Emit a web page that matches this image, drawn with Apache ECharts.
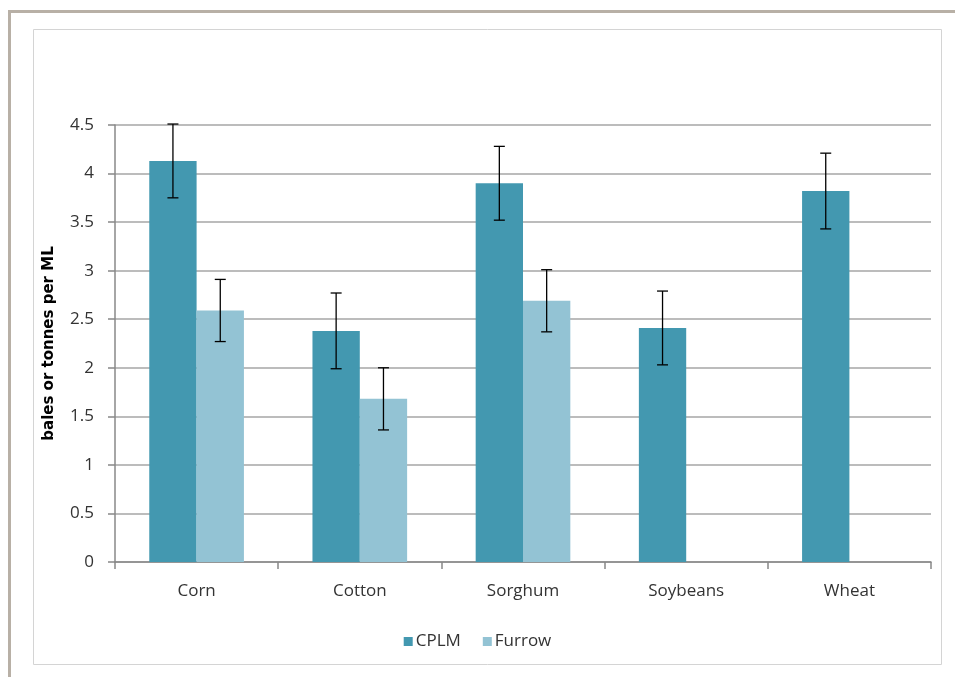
<!DOCTYPE html>
<html>
<head>
<meta charset="utf-8">
<script src="https://cdn.jsdelivr.net/npm/echarts@6/dist/echarts.min.js"></script>
<style>
html,body{margin:0;padding:0;background:#fff;}
#chart{width:955px;height:677px;}
</style>
</head>
<body>
<div id="chart"></div>
<script>
const categories = ['Corn', 'Cotton', 'Sorghum', 'Soybeans', 'Wheat'];
const seriesNames = ['CPLM', 'Furrow'];
const cplmValues = [4.13, 2.38, 3.90, 2.41, 3.82];
const cplmErrors = [0.38, 0.39, 0.38, 0.38, 0.39];
const furrowValues = [2.59, 1.68, 2.69, null, null];
const furrowErrors = [0.32, 0.32, 0.32, null, null];
const yTicks = [0, 0.5, 1, 1.5, 2, 2.5, 3, 3.5, 4, 4.5];

const colors = ['#4398b0', '#93c3d4'];
const gapFrac = 0.42;

function errData(vals, errs) {
  return vals.map((v, i) => v == null ? null : [i, v - errs[i], v + errs[i]]);
}

function makeErr(vals, errs, sideIndex) {
  return {
    type: 'custom',
    name: seriesNames[sideIndex] + ' error',
    z: 10,
    silent: true,
    data: errData(vals, errs).filter(d => d !== null),
    renderItem: function (params, api) {
      const cat = api.value(0);
      const lo = api.coord([cat, api.value(1)]);
      const hi = api.coord([cat, api.value(2)]);
      const band = api.size([1, 0])[0];
      const bw = band * (1 - gapFrac) / 2;
      const x = lo[0] + (sideIndex === 0 ? -bw / 2 : bw / 2);
      const cap = 5.5;
      const style = { stroke: '#000', lineWidth: 1.3, fill: null };
      return {
        type: 'group',
        children: [
          { type: 'line', shape: { x1: x, y1: lo[1], x2: x, y2: hi[1] }, style: style },
          { type: 'line', shape: { x1: x - cap, y1: lo[1], x2: x + cap, y2: lo[1] }, style: style },
          { type: 'line', shape: { x1: x - cap, y1: hi[1], x2: x + cap, y2: hi[1] }, style: style }
        ]
      };
    }
  };
}

const chart = echarts.init(document.getElementById('chart'), null, { renderer: 'canvas' });
chart.setOption({
  animation: false,
  backgroundColor: '#fff',
  textStyle: { fontFamily: 'Open Sans, Noto Sans, sans-serif' },
  graphic: [
    { type: 'rect', shape: { x: 9.5, y: 11.5, width: 1000, height: 1000 }, style: { fill: null, stroke: '#b8b0a6', lineWidth: 3 }, silent: true },
    { type: 'rect', shape: { x: 33.5, y: 29.5, width: 908, height: 635 }, style: { fill: null, stroke: '#d4d4d4', lineWidth: 1 }, silent: true }
  ],
  grid: { left: 115, right: 24, top: 125, bottom: 115, containLabel: false },
  legend: {
    bottom: 22,
    left: 'center',
    itemWidth: 9,
    itemHeight: 9,
    itemGap: 22,
    icon: 'rect',
    data: seriesNames,
    textStyle: { fontSize: 17, color: '#333', fontFamily: 'Open Sans, sans-serif', padding: [0, 0, 0, -2] }
  },
  xAxis: {
    type: 'category',
    data: categories,
    axisLine: { lineStyle: { color: '#888', width: 1.5 } },
    axisTick: { show: true, length: 7, lineStyle: { color: '#888', width: 1.5 } },
    axisLabel: { fontSize: 17, color: '#333', margin: 21 },
    splitLine: { show: false }
  },
  yAxis: {
    type: 'value',
    min: 0,
    max: 4.5,
    interval: 0.5,
    name: 'bales or tonnes per ML',
    nameLocation: 'middle',
    nameGap: 58,
    nameTextStyle: { fontSize: 15, fontWeight: 'bold', color: '#000', fontFamily: 'DejaVu Sans, sans-serif' },
    axisLine: { show: true, lineStyle: { color: '#888', width: 1.5 } },
    axisTick: { show: true, length: 7, inside: false, lineStyle: { color: '#888', width: 1.5 } },
    axisLabel: { fontSize: 17, color: '#333', margin: 21, formatter: v => yTicks.includes(v) ? String(v) : '' },
    splitLine: { lineStyle: { color: '#a6a6a6', width: 1.5 } }
  },
  series: [
    {
      type: 'bar', name: seriesNames[0], data: cplmValues,
      itemStyle: { color: colors[0] }, barGap: '0%', barCategoryGap: (gapFrac * 100) + '%'
    },
    {
      type: 'bar', name: seriesNames[1], data: furrowValues,
      itemStyle: { color: colors[1] }, barGap: '0%', barCategoryGap: (gapFrac * 100) + '%'
    },
    makeErr(cplmValues, cplmErrors, 0),
    makeErr(furrowValues, furrowErrors, 1)
  ]
});
</script>
</body>
</html>
